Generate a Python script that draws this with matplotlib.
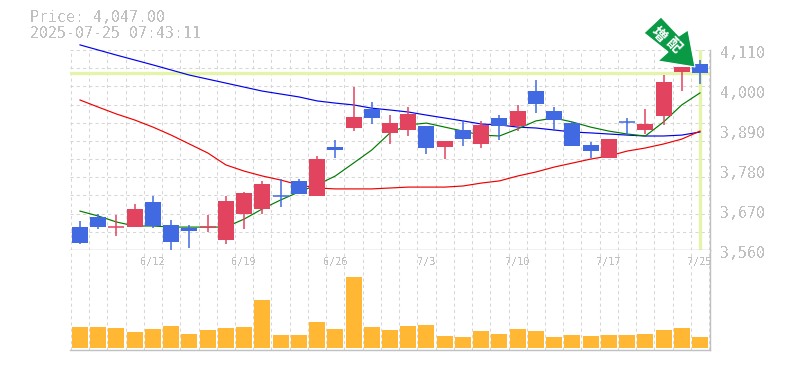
import matplotlib
matplotlib.use("Agg")
import matplotlib.pyplot as plt
from matplotlib.patches import Polygon
from matplotlib.ticker import FixedLocator
import numpy as np

tick_dates = ["6/12", "6/19", "6/26", "7/3", "7/10", "7/17", "7/25"]
tick_idx = [4, 9, 14, 19, 24, 29, 34]
price_ticks = [3560, 3670, 3780, 3890, 4000, 4110]
last_price = 4047

opens = [3624, 3651, 3623, 3624, 3692, 3629, 3620.5, 3623, 3587.5, 3659, 3673, 3709,
         3750, 3708.5, 3843, 3895.5, 3948, 3882, 3890, 3901, 3843, 3890, 3851.5, 3923,
         3901, 3997, 3942, 3909, 3849, 3813, 3913, 3890, 3928.5, 4049.5, 4071.5]
closes = [3579, 3624, 3624, 3673, 3626.5, 3582, 3612, 3624, 3695, 3717, 3741.5, 3708,
          3714, 3810, 3835, 3926, 3923, 3909, 3934, 3840.5, 3860, 3865, 3904, 3901,
          3942, 3961.5, 3917.5, 3846, 3832, 3865, 3912, 3906.5, 4022, 4063, 4047]
highs = [3640, 3659, 3656, 3686.5, 3708.5, 3642.5, 3629, 3656, 3708.5, 3719.5, 3750, 3755,
         3755, 3818.5, 3862.5, 4008, 3967, 3931, 3953, 3901, 3860, 3917.5, 3915, 3931,
         3959, 4027.5, 3953, 3912, 3857, 3865, 3923, 3948, 4041, 4063, 4082.5]
lows = [3576.5, 3618, 3598.5, 3624, 3620.5, 3560, 3565.5, 3609.5, 3576.5, 3618, 3659, 3678,
        3714, 3708.5, 3813, 3887, 3906.5, 3851.5, 3873.5, 3824, 3810, 3846, 3840.5, 3862.5,
        3887, 3937, 3887, 3846, 3813, 3813, 3879, 3879, 3904, 3997, 4016.5]

ma_blue = [4124, 4110, 4096, 4082.5, 4069, 4055, 4041, 4030, 4019, 4008, 3997, 3989,
           3981, 3970, 3964, 3959, 3950, 3945, 3939.5, 3931, 3923, 3915, 3906.5, 3904,
           3898, 3895.5, 3890, 3884.5, 3882, 3879, 3876, 3873.5, 3873.5, 3876, 3884.5]
ma_red = [3972.5, 3953, 3934, 3917.5, 3898, 3876, 3851.5, 3827, 3794, 3777, 3763.5, 3752.5,
          3739, 3730.5, 3728, 3728, 3728, 3730.5, 3733, 3733, 3733, 3736, 3744, 3750,
          3763.5, 3774.5, 3788, 3799, 3810, 3818.5, 3832, 3840.5, 3851.5, 3865, 3887]
ma_green = [3667, 3653.5, 3637, 3626, 3626, 3623, 3623, 3623, 3623, 3645, 3673, 3697.5,
            3719.5, 3739, 3763.5, 3799, 3835, 3882, 3904, 3909, 3898, 3887, 3876, 3873.5,
            3893, 3915, 3923, 3912, 3898, 3887, 3879, 3873.5, 3912, 3959, 3992]

volume = [21, 21, 20, 16, 19, 22, 14, 18, 20, 21, 48, 13, 13, 26, 19, 71, 21, 18,
          22, 23, 12, 11, 17, 14, 19, 17, 11, 13, 12, 13, 13, 14, 18, 20, 11]

W, H = 785, 370
GRAY = "#c0c0c0"
GRID = "#d6d6d6"
UP = "#e2435f"
DOWN = "#4169e1"
MONO = "DejaVu Sans Mono"

plt.rcParams["text.antialiased"] = False

fig = plt.figure(figsize=(W / 100, H / 100), dpi=100)


def px_axes(x0, y0, x1, y1):
    return fig.add_axes([x0 / W, 1 - y1 / H, (x1 - x0) / W, (y1 - y0) / H])


ax = px_axes(70, 50, 710, 250)
vax = px_axes(70, 250, 710, 350)
n = len(opens)
x = np.arange(n)

for a in (ax, vax):
    a.set_xlim(-0.548, n - 1 + 0.548)
    a.xaxis.set_major_locator(FixedLocator(np.arange(-0.5, n, 1)))
    a.grid(True, axis="x", color=GRID, lw=0.75, ls=(0, (3, 3)))
    a.set_axisbelow(True)
    a.tick_params(length=0, labelbottom=False, labelleft=False)
    for s in a.spines.values():
        s.set_visible(False)
    a.spines["right"].set_visible(True)
    a.spines["bottom"].set_visible(True)
    a.spines["right"].set_color(GRAY)
    a.spines["bottom"].set_color(GRAY)
    a.spines["right"].set_linewidth(1)
    a.spines["bottom"].set_linewidth(1)

ax.set_ylim(3560, 4110)
ax.yaxis.set_major_locator(FixedLocator(np.arange(3560, 4111, 50)))
ax.grid(True, axis="y", color=GRID, lw=0.75, ls=(0, (3, 3)))

# current price cross
ax.axhline(last_price, color="#e4f5ab", lw=2.4, zorder=1.5)
ax.axvline(x[-1], color="#e4f5ab", lw=2.4, zorder=1.5)

ax.plot(x, ma_blue, color="#0000ee", lw=0.85, zorder=2, clip_on=False)
ax.plot(x, ma_red, color="#ee0000", lw=0.85, zorder=2, clip_on=False)
ax.plot(x, ma_green, color="#007a00", lw=0.85, zorder=2, clip_on=False)

for i in range(n):
    col = UP if closes[i] >= opens[i] else DOWN
    ax.vlines(x[i], lows[i], highs[i], color=col, lw=1.1, zorder=3)
    lo = min(opens[i], closes[i])
    h = abs(closes[i] - opens[i])
    ax.bar(x[i], h, bottom=lo, width=0.877, color=col, lw=0, zorder=3)
    if h < 2:
        ax.hlines(lo, x[i] - 0.44, x[i] + 0.44, color=col, lw=1.1, zorder=3)

for t, lab in zip(price_ticks, ["3,560", "3,670", "3,780", "3,890", "4,000", "4,110"]):
    ax.annotate(lab, (1, t), xycoords=ax.get_yaxis_transform(), xytext=(10, -3),
                textcoords="offset pixels", family=MONO, fontsize=10.7, color=GRAY,
                ha="left", va="center")

vax.set_ylim(-2, 98)
vax.bar(x, volume, width=0.877, color="#ffb734", lw=0, zorder=3)

for i, lab in zip(tick_idx, tick_dates):
    vax.annotate(lab, (x[i], 1), xycoords=vax.get_xaxis_transform(), xytext=(0, -12),
                 textcoords="offset pixels", family=MONO, fontsize=7.4, color=GRAY,
                 ha="center", va="center")

fig.text(30 / W, 1 - 18 / H, "Price: 4,047.00", family=MONO, fontsize=10.7, color=GRAY, va="center")
fig.text(30 / W, 1 - 33 / H, "2025-07-25 07:43:11", family=MONO, fontsize=10.7, color=GRAY, va="center")

# 増配 arrow, in pixels
over = fig.add_axes([0, 0, 1, 1])
over.set_xlim(0, W)
over.set_ylim(H, 0)
over.axis("off")
arrow = [(661, 17), (644, 33), (668, 52), (658, 61), (695, 67), (688, 30), (679, 36)]
over.add_patch(Polygon(arrow, closed=True, fc="#0a9a46", ec="white", lw=0.8, zorder=5))
cjk = ["Noto Sans CJK JP", "DejaVu Sans"]
over.text(659, 34, "増", family=cjk, fontsize=10.5, weight="bold", color="white", rotation=-45,
          ha="center", va="center", zorder=6, antialiased=True)
over.text(674, 45, "配", family=cjk, fontsize=10.5, weight="bold", color="white", rotation=-45,
          ha="center", va="center", zorder=6, antialiased=True)

fig.savefig("out.png", dpi=100)
